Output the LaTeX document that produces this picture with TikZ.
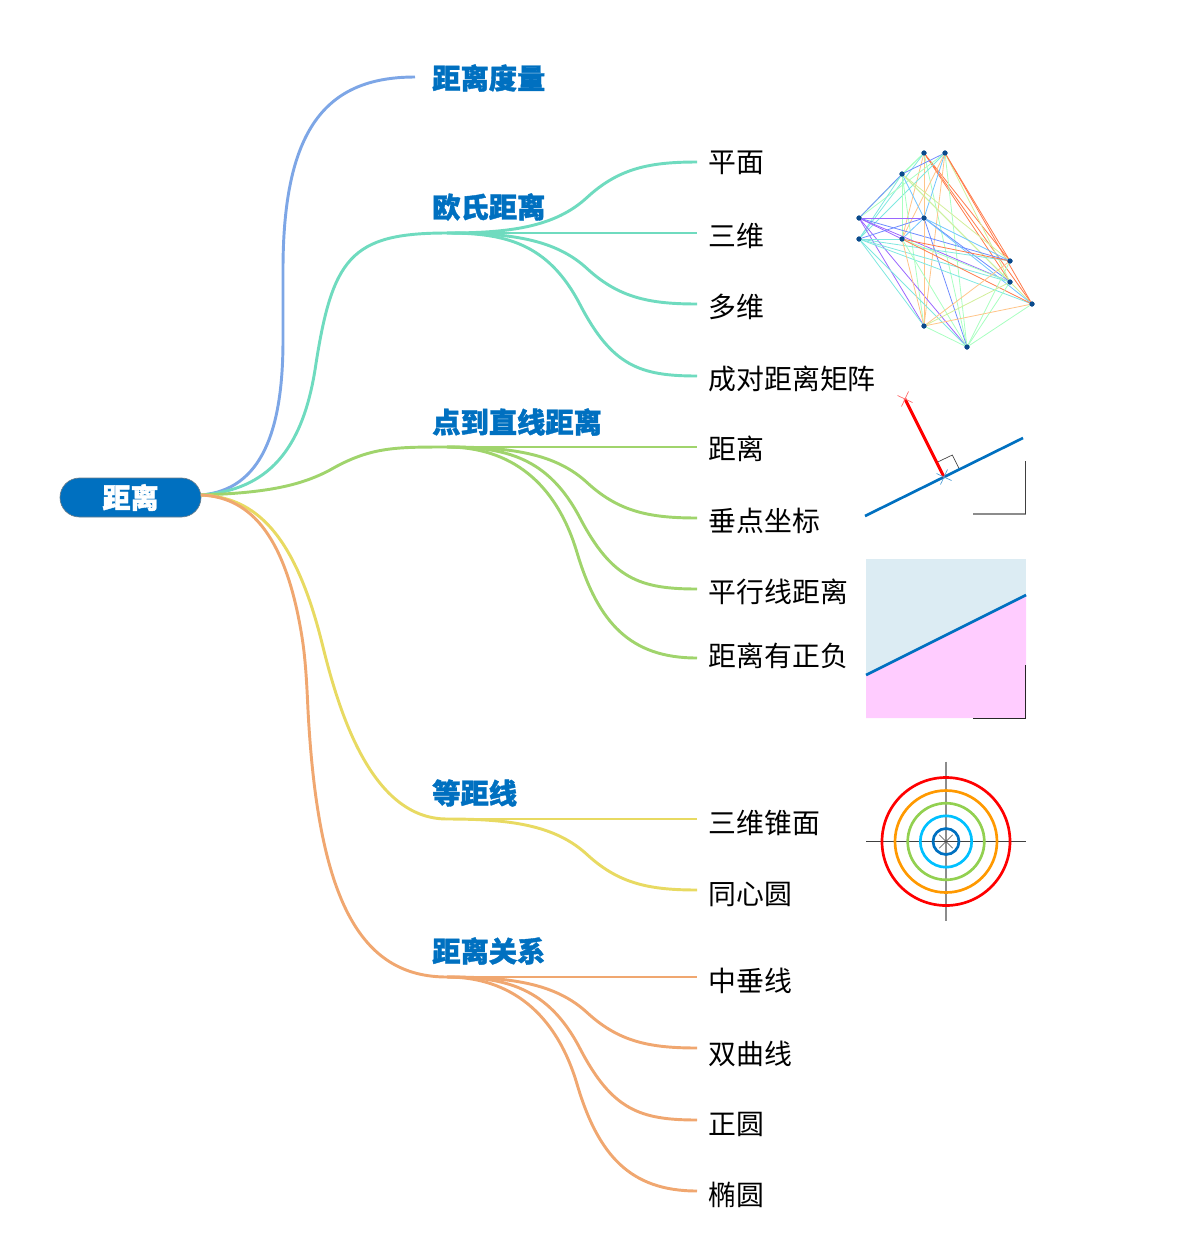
\documentclass[tikz,border=0pt]{standalone}
\usepackage{fontspec}
\setmainfont{Noto Sans CJK SC}[BoldFeatures={FakeBold=1.3}]
\usetikzlibrary{calc,positioning}
\definecolor{rootblue}{HTML}{0070C0}
\definecolor{brblue}{HTML}{7DA6E6}
\definecolor{brteal}{HTML}{6FDBBF}
\definecolor{brgreen}{HTML}{A0D46C}
\definecolor{bryellow}{HTML}{E8DA62}
\definecolor{brorange}{HTML}{F0A770}
\definecolor{dotblue}{HTML}{0A4A8C}
\definecolor{skyfill}{HTML}{DCECF3}
\definecolor{pinkfill}{HTML}{FFCCFF}
\definecolor{ringgreen}{HTML}{92D050}
\definecolor{ringcyan}{HTML}{00C0FF}
\definecolor{ringorange}{HTML}{FF9900}
\definecolor{ec1}{HTML}{6F8CFF}
\definecolor{ec2}{HTML}{7FE8E0}
\definecolor{ec3}{HTML}{A8FFC0}
\definecolor{ec4}{HTML}{FFC488}
\definecolor{ec5}{HTML}{FF7A4A}
\definecolor{ec6}{HTML}{9A66FF}
\definecolor{ec7}{HTML}{70C4FF}
\definecolor{ec8}{HTML}{D2EE9A}
\tikzset{
    rootnode/.style={draw=gray!80!rootblue,line width=0.5pt,fill=rootblue,text=white,font=\fontsize{21}{24}\selectfont\bfseries,rounded corners=14.6pt,minimum width=105.75pt,minimum height=29.25pt,inner sep=0pt},
    topic/.style={anchor=west,text=rootblue,font=\fontsize{21.2}{24}\selectfont\bfseries,inner sep=0pt},
    leaf/.style={anchor=west,font=\fontsize{20.9}{24}\selectfont,inner xsep=8.5pt,inner ysep=0pt,text height=20pt,text depth=0pt},
    branch/.style={line width=2.2pt},
    dot/.style={circle,fill=dotblue,inner sep=0pt,minimum size=3.6pt},
    web/.style={line width=0.6pt},
    thinline/.style={line width=0.5pt,black!75},
    greyline/.style={line width=0.8pt,black!45},
}
\begin{document}
\begin{tikzpicture}[x=0.75pt,y=-0.75pt]
        \useasboundingbox (0,0) rectangle (1200,1240);

        \node[rootnode] (root) at (130.5,497.5) {距离};
        \coordinate (hub) at (201,495);

        \node[topic] (metric) at (432,78) {距离度量};
        \node[topic] (euclid) at (432,207) {欧氏距离};
        \node[topic] (point) at (432,422) {点到直线距离};
        \node[topic] (equal) at (432,793) {等距线};
        \node[topic] (relation) at (432,951) {距离关系};

        \coordinate (metricend) at (415,77);
        \coordinate (euclidhub) at (447,233);
        \coordinate (pointhub) at (447,447);
        \coordinate (equalhub) at (447,819);
        \coordinate (relationhub) at (447,977);

        \node[leaf,text height=16pt] (plane) at (697,162) {平面};
        \node[leaf] (threed) at (697,233) {三维};
        \node[leaf] (multi) at (697,304) {多维};
        \node[leaf] (pair) at (697,376) {成对距离矩阵};
        \node[leaf,text height=19pt] (dist) at (697,447) {距离};
        \node[leaf] (foot) at (697,518) {垂点坐标};
        \node[leaf] (parallel) at (697,589) {平行线距离};
        \node[leaf,text height=12pt] (signed) at (697,658) {距离有正负};
        \node[leaf,text height=22pt] (cone) at (697,819) {三维锥面};
        \node[leaf,text height=22pt] (rings) at (697,890) {同心圆};
        \node[leaf,text height=22pt] (bisect) at (697,977) {中垂线};
        \node[leaf,text height=24pt] (hyper) at (697,1048) {双曲线};
        \node[leaf,text height=22pt] (circ) at (697,1120) {正圆};
        \node[leaf,text height=22pt] (ellip) at (697,1191) {椭圆};

        % main branches
        \draw[branch,brblue] (hub) .. controls (262,490) and (283,430) .. (283,340) -- (283,270) .. controls (283,130) and (325,77) .. (metricend);
        \draw[branch,brteal] (hub) .. controls (268,490) and (302,450) .. (315,370) .. controls (332,258) and (350,233) .. (euclidhub);
        \draw[branch,brgreen] (hub) .. controls (265,493) and (300,486) .. (330,470) .. controls (370,447) and (395,447) .. (pointhub);
        \draw[branch,bryellow] (hub) .. controls (255,497) and (294.5,533) .. (322,643) .. controls (338,708) and (370,819) .. (equalhub);
        \draw[branch,brorange] (hub) .. controls (245,497) and (284.4,527) .. (302,637) .. controls (306,662) and (307,690) .. (308,710) .. controls (318,900) and (360,977) .. (relationhub);

        % leaves
        \draw[branch,brteal] (euclidhub) .. controls (510,233) and (555,227) .. (587,197.5) .. controls (619,168) and (650,162) .. (plane.west);
        \draw[branch,brteal] (euclidhub) -- (threed.west);
        \draw[branch,brteal] (euclidhub) .. controls (510,233) and (555,239) .. (587,268.5) .. controls (619,298) and (650,304) .. (multi.west);
        \draw[branch,brteal] (euclidhub) .. controls (505,233) and (548,243) .. (580,304.5) .. controls (612,366) and (640,376) .. (pair.west);
        \draw[branch,brgreen] (pointhub) -- (dist.west);
        \draw[branch,brgreen] (pointhub) .. controls (510,447) and (555,453) .. (587,482.5) .. controls (619,512) and (650,518) .. (foot.west);
        \draw[branch,brgreen] (pointhub) .. controls (505,447) and (548,457) .. (580,518) .. controls (612,579) and (640,589) .. (parallel.west);
        \draw[branch,brgreen] (pointhub) .. controls (510,447) and (556,482) .. (577,552.5) .. controls (598,622.5) and (630,658) .. (signed.west);
        \draw[branch,bryellow] (equalhub) -- (cone.west);
        \draw[branch,bryellow] (equalhub) .. controls (510,819) and (555,825) .. (587,854.5) .. controls (619,884) and (650,890) .. (rings.west);
        \draw[branch,brorange] (relationhub) -- (bisect.west);
        \draw[branch,brorange] (relationhub) .. controls (510,977) and (555,983) .. (587,1012.5) .. controls (619,1042) and (650,1048) .. (hyper.west);
        \draw[branch,brorange] (relationhub) .. controls (505,977) and (548,987) .. (580,1048.5) .. controls (612,1110) and (640,1120) .. (circ.west);
        \draw[branch,brorange] (relationhub) .. controls (510,977) and (556,1013) .. (577,1084) .. controls (598,1155) and (630,1191) .. (ellip.west);

        % pairwise picture
        \node[dot] (pa) at (924,153) {};
        \node[dot] (pb) at (945,153) {};
        \node[dot] (pc) at (902,174) {};
        \node[dot] (pd) at (859,218) {};
        \node[dot] (pe) at (924,218) {};
        \node[dot] (pf) at (859,239) {};
        \node[dot] (pg) at (902,239) {};
        \node[dot] (ph) at (1010,261) {};
        \node[dot] (pi) at (1010,282) {};
        \node[dot] (pj) at (1032,304) {};
        \node[dot] (pk) at (924,326) {};
        \node[dot] (pl) at (967,347) {};
        \foreach \u/\v/\c in {pa/pc/ec3,pa/pd/ec3,pa/pf/ec2,pa/pe/ec4,pa/pg/ec4,pa/pk/ec4,pa/ph/ec5,pa/pi/ec5,pa/pj/ec5,pa/pl/ec3,
            pb/pc/ec1,pb/pd/ec3,pb/pe/ec7,pb/pf/ec2,pb/pg/ec4,pb/ph/ec5,pb/pi/ec8,pb/pj/ec5,pb/pk/ec4,pb/pl/ec3,
            pc/pd/ec1,pc/pe/ec7,pc/pf/ec2,pc/pg/ec3,pc/ph/ec8,pc/pi/ec3,pc/pj/ec8,pc/pk/ec3,
            pd/pe/ec6,pd/pg/ec6,pd/ph/ec1,pd/pi/ec6,pd/pk/ec6,pd/pl/ec6,
            pe/pf/ec1,pe/pg/ec7,pe/ph/ec7,pe/pi/ec1,pe/pj/ec7,pe/pk/ec4,pe/pl/ec1,
            pf/pg/ec2,pf/ph/ec2,pf/pi/ec2,pf/pj/ec2,pf/pk/ec2,pf/pl/ec2,
            pg/ph/ec5,pg/pi/ec3,pg/pj/ec5,pg/pk/ec4,pg/pl/ec3,
            ph/pk/ec4,ph/pl/ec3,pi/pk/ec8,pi/pl/ec3,pj/pk/ec4,pj/pl/ec3,pk/pl/ec3}
            \draw[web,\c] (\u) -- (\v);
        \foreach \u in {pa,pb,pc,pd,pe,pf,pg,ph,pi,pj,pk,pl}
            \fill[dotblue] (\u) circle (2.6);

        % distance to line
        \coordinate (tip) at (905,399);
        \coordinate (foot0) at (944,477);
        \draw[thinline] (938.3,461.7) -- (952.3,455) -- (959.3,469);
        \draw[line width=2pt,rootblue] (865,516) -- (1023,438);
        \draw[line width=2.2pt,red] (tip) -- (foot0);
        \draw[line width=0.5pt,red!60] (tip) ++(-7.5,-3.5) -- ++(15,7) (tip) ++(-3.5,7.5) -- ++(7,-15);
        \draw[line width=0.5pt,rootblue!70] (foot0) ++(-7.5,-3.5) -- ++(15,7) (foot0) ++(-3.5,7.5) -- ++(7,-15);
        \draw[greyline] (973,514) -- (1025.5,514);
        \draw[thinline] (1025.5,514) -- (1025.5,461);

        % half planes
        \fill[skyfill] (866,559) rectangle (1026,676);
        \fill[pinkfill] (866,675) -- (1026,595) -- (1026,718) -- (866,718) -- cycle;
        \draw[line width=2pt,rootblue] (866,675) -- (1026,595);
        \draw[line width=0.6pt,black!85] (973,718) -- (1025.5,718) -- (1025.5,665);

        % rings
        \coordinate (mid) at (946,841.5);
        \draw[thinline] (866,841.5) -- (1026,841.5);
        \draw[greyline] (946,761.5) -- (946,921);
        \draw[line width=2pt,red] (mid) circle (64);
        \draw[line width=2pt,ringorange] (mid) circle (51);
        \draw[line width=2pt,ringgreen] (mid) circle (38.3);
        \draw[line width=2pt,ringcyan] (mid) circle (25.7);
        \draw[line width=2pt,rootblue] (mid) circle (13);
        \draw[thinline] (939.3,834.8) -- (952.7,848.2) (939.3,848.2) -- (952.7,834.8);

\end{tikzpicture}
\end{document}
